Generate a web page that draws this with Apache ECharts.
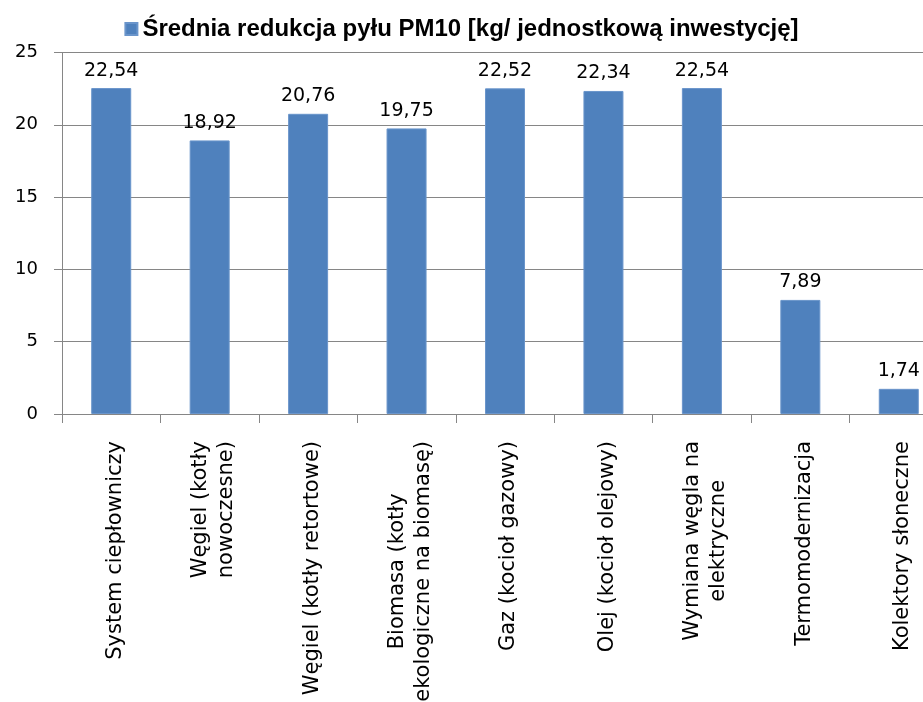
<!DOCTYPE html>
<html>
<head>
<meta charset="utf-8">
<script src="https://cdn.jsdelivr.net/npm/echarts@6/dist/echarts.min.js"></script>
<style>
  html, body { margin: 0; padding: 0; background: #fff; }
  #main { width: 923px; height: 702px; }
</style>
</head>
<body>
<div id="main"></div>
<script>
// dane
var seriesName = 'Średnia redukcja pyłu PM10 [kg/ jednostkową inwestycję]';
var categories = [
  'System ciepłowniczy',
  'Węgiel (kotły\nnowoczesne)',
  'Węgiel (kotły retortowe)',
  'Biomasa (kotły\nekologiczne na biomasę)',
  'Gaz (kocioł gazowy)',
  'Olej (kocioł olejowy)',
  'Wymiana węgla na\nelektryczne',
  'Termomodernizacja',
  'Kolektory słoneczne'
];
var values = [22.54, 18.92, 20.76, 19.75, 22.52, 22.34, 22.54, 7.89, 1.74];
var yTicks = [0, 5, 10, 15, 20, 25];

var myChart = echarts.init(document.getElementById('main'));

var option = {
  animation: false,
  textStyle: { fontFamily: 'DejaVu Sans' },
  legend: {
    top: 12,
    left: 'center',
    icon: 'rect',
    itemWidth: 12,
    itemHeight: 12,
    itemGap: 4,
    textStyle: {
      fontFamily: 'Liberation Sans',
      fontWeight: 'bold',
      fontSize: 24,
      color: '#000'
    },
    data: [seriesName]
  },
  grid: {
    left: 62,
    top: 52.5,
    bottom: 288,
    width: 886,
    outerBoundsMode: 'none'
  },
  xAxis: {
    type: 'category',
    data: categories,
    axisLine: { lineStyle: { color: '#868686' } },
    axisTick: { show: true, length: 9, lineStyle: { color: '#868686' } },
    axisLabel: {
      interval: 0,
      rotate: 90,
      margin: 27,
      color: '#000',
      fontSize: 21,
      lineHeight: 26,
      padding: [8, 0, 0, 0],
      formatter: function (value) {
        return value.split('\n').map(function (l) { return '{c|' + l + '}'; }).join('\n');
      },
      rich: {
        c: { align: 'center', fontSize: 21, lineHeight: 26, fontFamily: 'DejaVu Sans', color: '#000' }
      }
    }
  },
  yAxis: {
    type: 'value',
    min: yTicks[0],
    max: yTicks[yTicks.length - 1],
    interval: 5,
    axisLine: { show: true, lineStyle: { color: '#868686' } },
    axisTick: { show: true, length: 8, lineStyle: { color: '#868686' } },
    axisLabel: { margin: 24, color: '#000', fontSize: 18 },
    splitLine: { lineStyle: { color: '#868686', width: 1 } }
  },
  series: [
    {
      name: seriesName,
      type: 'bar',
      barWidth: 40,
      data: values,
      itemStyle: { color: '#4F81BD', borderColor: '#6A95CB', borderWidth: 1 },
      label: {
        show: true,
        position: 'top',
        distance: 8,
        color: '#000',
        fontSize: 19,
        formatter: function (p) { return p.value.toFixed(2).replace('.', ','); }
      }
    }
  ]
};

option && myChart.setOption(option);
</script>
</body>
</html>
